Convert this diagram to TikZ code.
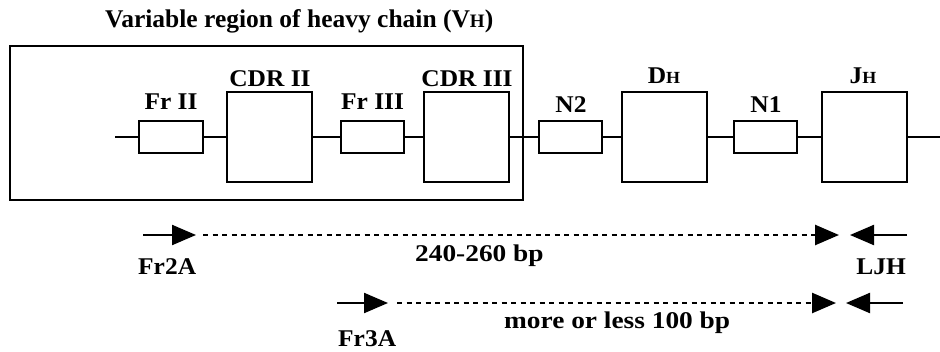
\documentclass[tikz,border=0pt]{standalone}
\usepackage{fontspec}
\setmainfont{Liberation Serif}
\newfontfamily\labfont[FakeStretch=1.06]{Liberation Serif}
\newfontfamily\widefont[FakeStretch=1.14]{Liberation Serif}
\usetikzlibrary{arrows.meta}
\newcommand\smallH[1]{{\fontsize{#1}{#1}\selectfont H}}
\tikzset{
  seg/.style={draw, line width=1.7pt, minimum height=32pt, inner sep=0pt},
  bigseg/.style={draw, line width=1.7pt, minimum height=90pt, minimum width=85pt, inner sep=0pt},
  chain/.style={line width=1.5pt},
  lab/.style={font=\labfont\fontsize{24}{24}\selectfont\bfseries, anchor=base, inner sep=0pt},
  bplab/.style={font=\widefont\fontsize{24}{24}\selectfont\bfseries, anchor=base west, inner sep=0pt},
  primer/.style={line width=2.2pt, -{Triangle[length=24pt,width=20pt]}},
  span/.style={line width=2.6pt, dash pattern=on 5pt off 4.5pt, -{Triangle[length=24pt,width=20pt]}},
}
\begin{document}
\begin{tikzpicture}[x=1pt,y=-1pt]
\useasboundingbox (0,0) rectangle (940,351);
% title
\node[lab, anchor=base west, font=\fontsize{25.5}{25.5}\selectfont\bfseries] (title) at (105,27) {Variable region of heavy chain (V\smallH{19})};
% outer frame
\node[draw, line width=1.9pt, minimum width=513pt, minimum height=154pt, inner sep=0pt] (frame) at (266.5,123) {};
% segments
\node[seg, minimum width=64pt] (fr2) at (171,137) {};
\node[bigseg] (cdr2) at (269.5,137) {};
\node[seg, minimum width=63pt] (fr3) at (372.5,137) {};
\node[bigseg] (cdr3) at (466.5,137) {};
\node[seg, minimum width=63pt] (n2) at (570.5,137) {};
\node[bigseg] (dh) at (664.5,137) {};
\node[seg, minimum width=63pt] (n1) at (765.5,137) {};
\node[bigseg] (jh) at (864.5,137) {};
\coordinate (cs) at (115,137);
\coordinate (ce) at (940,137);
\draw[chain] (cs) -- (fr2.west);
\draw[chain] (fr2.east) -- (cdr2.west);
\draw[chain] (cdr2.east) -- (fr3.west);
\draw[chain] (fr3.east) -- (cdr3.west);
\draw[chain] (cdr3.east) -- (n2.west);
\draw[chain] (n2.east) -- (dh.west);
\draw[chain] (dh.east) -- (n1.west);
\draw[chain] (n1.east) -- (jh.west);
\draw[chain] (jh.east) -- (ce);
% labels
\node[lab] (lfr2) at (171,109) {Fr II};
\node[lab] (lcdr2) at (270,86) {CDR II};
\node[lab] (lfr3) at (372.5,109) {Fr III};
\node[lab] (lcdr3) at (467,86) {CDR III};
\node[lab] (ln2) at (571,112) {N2};
\node[lab] (ldh) at (664,83) {D\smallH{17}};
\node[lab] (ln1) at (766,112) {N1};
\node[lab] (ljh) at (863,83) {J\smallH{17}};
% primers row 1
\coordinate (a1s) at (143,235);
\coordinate (a1t) at (196,235);
\coordinate (d1s) at (203,235);
\coordinate (d1t) at (839,235);
\coordinate (r1s) at (907,235);
\coordinate (r1t) at (850,235);
\draw[primer] (a1s) -- (a1t);
\draw[span] (d1s) -- (d1t);
\draw[primer] (r1s) -- (r1t);
\node[lab, anchor=base west] (fr2a) at (138,274) {Fr2A};
\node[bplab] (bp1) at (415,261) {240-260 bp};
\node[lab, anchor=base east] (ljhp) at (906,274) {LJH};
% primers row 2
\coordinate (a2s) at (337,303);
\coordinate (a2t) at (388,303);
\coordinate (d2s) at (397,303);
\coordinate (d2t) at (836,303);
\coordinate (r2s) at (903,303);
\coordinate (r2t) at (846,303);
\draw[primer] (a2s) -- (a2t);
\draw[span] (d2s) -- (d2t);
\draw[primer] (r2s) -- (r2t);
\node[lab, anchor=base west] (fr3a) at (338,346) {Fr3A};
\node[bplab] (bp2) at (504,328) {more or less 100 bp};
\end{tikzpicture}
\end{document}
